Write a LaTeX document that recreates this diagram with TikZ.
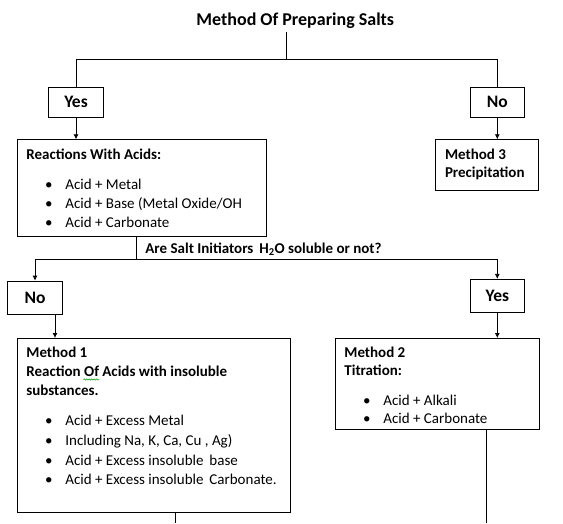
\documentclass[tikz,border=0pt]{standalone}
\usepackage{fontspec}
\setmainfont{Carlito}
\usetikzlibrary{arrows.meta,decorations.pathmorphing}

% one bullet line inside a box
\newcommand{\bulitem}[1]{\hspace*{22.5pt}\makebox[0pt]{\textbullet}\hspace*{16.5pt}#1}

\begin{document}
\begin{tikzpicture}[x=1pt, y=-1pt, line width=0.8pt,
    every node/.style={font=\fontsize{15}{19}\selectfont},
    flow/.style={-{Latex[length=5pt,width=5pt]}},
    choice/.style={draw, inner sep=0pt, font=\fontsize{17.5}{19}\selectfont\bfseries},
    textbox/.style={draw, anchor=north west, inner xsep=9.3pt, inner ysep=6pt}]
    \useasboundingbox (0,0) rectangle (563,523);

    % Title and first choice
    \node[font=\fontsize{18}{19}\selectfont\bfseries] (title) at (295.3,20.7) {Method Of Preparing Salts};
    \node[choice, minimum width=55.4pt, minimum height=30pt] (yesA) at (76,102.3) {Yes};
    \node[choice, minimum width=54pt, minimum height=30pt] (noA) at (497.3,102.3) {No};

    % Upper boxes
    \node[textbox] (react) at (16.7,139.3) {\parbox[t][84.7pt][t]{230.4pt}{\strut\textbf{Reactions With Acids:}\\[11pt]
        \bulitem{Acid + Metal}\\
        \bulitem{Acid + Base (Metal Oxide/OH}\\
        \bulitem{Acid + Carbonate}}};
    \node[textbox] (meth3) at (435.3,139.3) {\parbox[t][39pt][t]{84.4pt}{\strut\textbf{Method 3}\\[-1pt]
        \textbf{Precipitation}}};

    % Second choice
    \node[anchor=base west, inner sep=0pt, font=\fontsize{15}{19}\selectfont\bfseries] (question) at (145,253) {Are Salt Initiators\, H\textsubscript{2}O soluble or not?};
    \node[choice, minimum width=55.4pt, minimum height=33.3pt] (noB) at (35,297.7) {No};
    \node[choice, minimum width=54pt, minimum height=33.4pt] (yesB) at (497.3,296) {Yes};

    % Lower boxes
    \node[textbox] (meth1) at (16.7,338) {\parbox[t][162pt][t]{255pt}{\strut\textbf{Method 1}\\
        \textbf{Reaction Of Acids with insoluble}\\
        \textbf{substances.}\\[11pt]
        \bulitem{Acid + Excess Metal}\\[0.7pt]
        \bulitem{Including Na, K, Ca, Cu , Ag)}\\[0.7pt]
        \bulitem{Acid + Excess insoluble\, base}\\[0.7pt]
        \bulitem{Acid + Excess insoluble\, Carbonate.}}};
    \node[textbox] (meth2) at (334.7,338) {\parbox[t][78.7pt][t]{186pt}{\strut\textbf{Method 2}\\[-1pt]
        \textbf{Titration:}\\[11pt]
        \bulitem{Acid + Alkali}\\[-1pt]
        \bulitem{Acid + Carbonate}}};

    % spell check mark under "Of"
    \draw[green!60!black, line width=0.5pt, decorate, decoration={snake, amplitude=0.7pt, segment length=2.5pt}] (83.3,379.5) -- (99.3,379.5);

    % Connectors, first split
    \coordinate (splitA) at (286.3,59.3);
    \draw (title.south -| splitA) -- (splitA);
    \draw (splitA) -| (yesA.north);
    \draw (splitA) -| (noA.north);
    \draw[flow] (yesA.south) -- (yesA.south |- react.north);
    \draw[flow] (noA.south) -- (noA.south |- meth3.north);

    % Connectors, second split
    \coordinate (splitB) at (136.7,259.3);
    \draw (splitB |- react.south) -- (splitB);
    \draw[flow] (splitB) -| (noB.north);
    \draw[flow] (splitB) -| (yesB.north);
    \draw[flow] ([xshift=20pt]noB.south) -- ([xshift=20pt]noB.south |- meth1.north);
    \draw[flow] (yesB.south) -- (yesB.south |- meth2.north);

    % Loose ends at the bottom
    \coordinate (endA) at (175,523);
    \coordinate (endB) at (486.7,523);
    \draw (endA |- meth1.south) -- (endA);
    \draw (endB |- meth2.south) -- (endB);

\end{tikzpicture}
\end{document}
